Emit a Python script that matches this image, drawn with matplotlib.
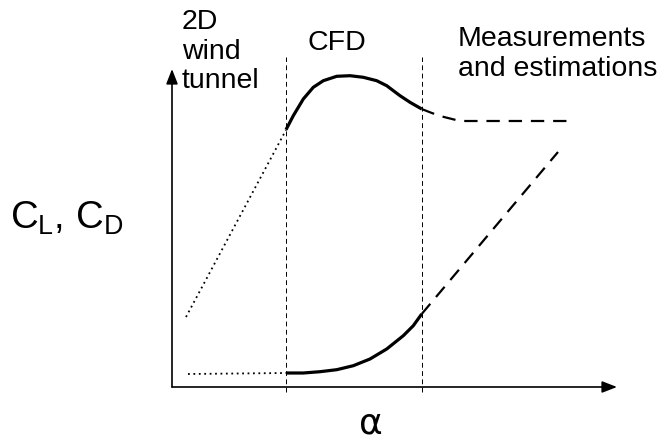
import numpy as np
import matplotlib.pyplot as plt

# schematic data: alpha (x) and force coefficient (y), arbitrary units
lift_wt_a = [1.4, 11.4]
lift_wt_c = [7.0, 25.7]
lift_cfd_a = [11.4, 12.13, 13.13, 14.13, 15.13, 16.47, 17.8, 19.13, 20.47, 21.47,
              22.8, 23.8, 24.97]
lift_cfd_c = [25.73, 27.13, 28.8, 29.97, 30.63, 31.07, 31.13, 30.97, 30.63, 30.13,
              29.13, 28.47, 27.8]
lift_est_a = [24.97, 25.8, 26.8, 28.8, 32.8, 39.6]
lift_est_c = [27.8, 27.47, 27.1, 26.6, 26.6, 26.6]

drag_wt_a = [1.6, 11.4]
drag_wt_c = [1.3, 1.4]
drag_cfd_a = [11.4, 13.13, 14.8, 16.47, 18.13, 19.8, 21.47, 23.13, 24.13, 24.97]
drag_cfd_c = [1.4, 1.4, 1.53, 1.73, 2.13, 2.8, 3.8, 5.13, 6.13, 7.3]
drag_est_a = [24.97, 38.6]
drag_est_c = [7.3, 23.5]

region_bounds = [11.4, 25.0]
x_axis_end = 44.5
y_axis_end = 31.8

plt.rcParams['mathtext.fontset'] = 'custom'
plt.rcParams['mathtext.rm'] = 'Liberation Serif'

fig = plt.figure(figsize=(6.67, 4.39), dpi=100)
ax = fig.add_axes([0, 0, 1, 1])
ax.set_xlim(-17.2, 49.5)
ax.set_ylim(-5.1, 38.8)
ax.axis('off')

# axes with arrows
arw = dict(arrowstyle='-|>,head_length=0.9,head_width=0.35', color='black', lw=1.2,
           shrinkA=0, shrinkB=0)
ax.annotate('', xy=(x_axis_end, 0), xytext=(0, 0), arrowprops=arw)
ax.annotate('', xy=(0, y_axis_end), xytext=(0, 0), arrowprops=arw)

# region separators
for b in region_bounds:
    ax.plot([b, b], [-0.5, 33.0], color='black', lw=0.7, ls=(0, (5, 3.5)))

# lift
ax.plot(lift_wt_a, lift_wt_c, color='black', lw=1.3, ls=(0, (1, 2)))
ax.plot(lift_cfd_a, lift_cfd_c, color='black', lw=2.3, solid_capstyle='butt',
        solid_joinstyle='round')
ax.plot(lift_est_a, lift_est_c, color='black', lw=1.6, ls=(0, (6, 4)))

# drag
ax.plot(drag_wt_a, drag_wt_c, color='black', lw=1.3, ls=(0, (1, 2)))
ax.plot(drag_cfd_a, drag_cfd_c, color='black', lw=2.3, solid_capstyle='butt',
        solid_joinstyle='round')
ax.plot(drag_est_a, drag_est_c, color='black', lw=1.6, ls=(0, (6, 4)))

sans = 'Liberation Sans'
ax.text(1.0, 37.9, '2D\nwind\ntunnel', fontsize=20.5, family=sans, va='top', ha='left',
        linespacing=1.18)
ax.text(16.5, 33.8, 'CFD', fontsize=20.5, family=sans, ha='center', va='baseline')
ax.text(28.6, 36.2, 'Measurements\nand estimations', fontsize=20.5, family=sans,
        ha='left', va='top', linespacing=1.2)
ax.text(-16.2, 17.0, r'C$_\mathregular{L}$, C$_\mathregular{D}$', fontsize=27.5,
        family=sans, ha='left', va='center')
ax.text(19.8, -4.6, r'$\mathregular{\alpha}$', fontsize=26, ha='center', va='baseline')

fig.savefig('out.png', dpi=100)
